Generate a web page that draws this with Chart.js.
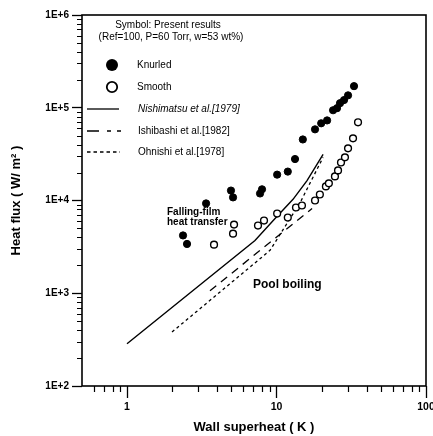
<!DOCTYPE html>
<html>
<head>
<meta charset="utf-8">
<script src="https://cdn.jsdelivr.net/npm/chart.js@4/dist/chart.umd.min.js"></script>
<style>
  html, body { margin: 0; padding: 0; background: #fff; }
</style>
</head>
<body>
<canvas id="fluxChart" width="433" height="436"></canvas>
<script>
// Present results (Ref=100, P=60 Torr, w=53 wt%)
const knurledX = [2.37, 2.52, 3.38, 4.96, 5.12, 7.76, 8.0, 10.1, 11.9, 13.3, 15.0, 18.1, 19.9, 21.8, 23.9, 25.4, 26.6, 28.3, 30.1, 33.0];
const knurledY = [4200, 3400, 9300, 12800, 10800, 11900, 13200, 19000, 20500, 28000, 45500, 58500, 68000, 73000, 94000, 99000, 112000, 121000, 136000, 171000];
const smoothX = [3.82, 5.12, 5.20, 7.52, 8.25, 10.1, 11.9, 13.5, 14.8, 18.1, 19.5, 21.4, 22.4, 24.6, 25.8, 27.0, 28.7, 30.1, 32.5, 35.1];
const smoothY = [3340, 4390, 5500, 5370, 6080, 7230, 6550, 8400, 8830, 10000, 11600, 14200, 15300, 18200, 21100, 25700, 29200, 36500, 46800, 69700];

// pool boiling correlations
const nishimatsuX = [1, 7.18, 9.78, 12.9, 16.0, 20.5];
const nishimatsuY = [285, 3700, 6390, 10300, 16400, 31400];
const ishibashiX = [3.59, 17.3];
const ishibashiY = [1065, 8200];
const ohnishiX = [2.0, 9.05, 10.2, 14.4, 20.5];
const ohnishiY = [382, 2900, 3940, 9510, 29200];

// axes
const xMajor = [1, 10, 100];
const xTickLabels = ['1', '10', '100'];
const yMajor = [1e2, 1e3, 1e4, 1e5, 1e6];
const yTickLabels = ['1E+2', '1E+3', '1E+4', '1E+5', '1E+6'];

const FONT = '"Liberation Sans", Arial, sans-serif';

const pts = (xs, ys) => xs.map((v, i) => ({ x: v, y: ys[i] }));

// minor tick positions (2..9 in each decade)
const xMinor = [];
[0.1, 1, 10].forEach(d => { for (let m = 2; m <= 9; m++) { const v = m * d; if (v > 0.5 && v < 100) xMinor.push(v); } });
const yMinor = [];
[1e2, 1e3, 1e4, 1e5].forEach(d => { for (let m = 2; m <= 9; m++) yMinor.push(m * d); });

const decorations = {
  id: 'decorations',
  afterDraw(chart) {
    const { ctx, chartArea: a, scales: { x, y } } = chart;
    ctx.save();
    ctx.strokeStyle = '#000';
    ctx.fillStyle = '#000';

    // frame
    ctx.lineWidth = 1.6;
    ctx.strokeRect(a.left, a.top, a.right - a.left, a.bottom - a.top);

    // minor ticks
    ctx.lineWidth = 1.2;
    ctx.beginPath();
    yMinor.forEach(v => { const py = Math.round(y.getPixelForValue(v)) + 0.5; ctx.moveTo(a.left - 5, py); ctx.lineTo(a.left, py); });
    xMinor.forEach(v => { const px = Math.round(x.getPixelForValue(v)) + 0.5; ctx.moveTo(px, a.bottom); ctx.lineTo(px, a.bottom + 6); });
    ctx.stroke();

    // legend header
    ctx.font = '10px ' + FONT;
    ctx.textBaseline = 'middle';
    ctx.textAlign = 'center';
    ctx.fillText('Symbol: Present results', 168, 25);
    ctx.fillText('(Ref=100, P=60 Torr, w=53 wt%)', 171, 37);

    // legend symbols
    ctx.beginPath();
    ctx.arc(112, 65, 6, 0, Math.PI * 2);
    ctx.fill();
    ctx.beginPath();
    ctx.lineWidth = 1.8;
    ctx.arc(112, 87, 5.2, 0, Math.PI * 2);
    ctx.stroke();

    ctx.lineWidth = 1.3;
    ctx.beginPath(); ctx.moveTo(87, 109); ctx.lineTo(119, 109); ctx.stroke();
    ctx.setLineDash([12, 8, 4, 6, 4]);
    ctx.beginPath(); ctx.moveTo(87, 131); ctx.lineTo(121, 131); ctx.stroke();
    ctx.setLineDash([3.5, 3]);
    ctx.beginPath(); ctx.moveTo(87, 152); ctx.lineTo(120, 152); ctx.stroke();
    ctx.setLineDash([]);

    ctx.textAlign = 'left';
    ctx.fillText('Knurled', 137, 65);
    ctx.fillText('Smooth', 137, 87);
    ctx.font = 'italic 10px ' + FONT;
    ctx.fillText('Nishimatsu et al.[1979]', 138, 109);
    ctx.font = '10px ' + FONT;
    ctx.fillText('Ishibashi et al.[1982]', 138, 131);
    ctx.fillText('Ohnishi et al.[1978]', 138, 152);

    // annotations
    ctx.font = 'bold 10px ' + FONT;
    ctx.fillText('Falling-film', 167, 212);
    ctx.fillText('heat transfer', 167, 222);
    ctx.font = 'bold 12px ' + FONT;
    ctx.fillText('Pool boiling', 253, 285);
    ctx.restore();
  }
};

const ctx = document.getElementById('fluxChart').getContext('2d');
const fluxChart = new Chart(ctx, {
  type: 'scatter',
  data: {
    datasets: [
      {
        label: 'Knurled',
        data: pts(knurledX, knurledY),
        pointStyle: 'circle',
        pointRadius: 3.6,
        backgroundColor: '#000',
        borderColor: '#000',
        borderWidth: 1,
      },
      {
        label: 'Smooth',
        data: pts(smoothX, smoothY),
        pointStyle: 'circle',
        pointRadius: 3.4,
        backgroundColor: '#fff',
        borderColor: '#000',
        borderWidth: 1.4,
      },
      {
        label: 'Nishimatsu et al.[1979]',
        data: pts(nishimatsuX, nishimatsuY),
        showLine: true,
        pointRadius: 0,
        borderColor: '#000',
        borderWidth: 1.4,
      },
      {
        label: 'Ishibashi et al.[1982]',
        data: pts(ishibashiX, ishibashiY),
        showLine: true,
        pointRadius: 0,
        borderColor: '#000',
        borderWidth: 1.3,
        borderDash: [8, 6],
      },
      {
        label: 'Ohnishi et al.[1978]',
        data: pts(ohnishiX, ohnishiY),
        showLine: true,
        pointRadius: 0,
        borderColor: '#000',
        borderWidth: 1.3,
        borderDash: [3, 3],
      },
    ],
  },
  options: {
    responsive: false,
    animation: false,
    layout: { padding: { top: 15, right: 7, left: 0, bottom: 0 } },
    plugins: {
      legend: { display: false },
      tooltip: { enabled: false },
    },
    scales: {
      x: {
        type: 'logarithmic',
        min: 0.5,
        max: 100,
        afterBuildTicks: s => { s.ticks = xMajor.map(v => ({ value: v })); },
        afterFit: s => { s.height = 50; s.paddingLeft = 0; s.paddingRight = 0; },
        border: { display: false },
        grid: { drawOnChartArea: false, tickLength: 12, tickColor: '#000', tickWidth: 1.3 },
        ticks: {
          color: '#000',
          padding: 3,
          autoSkip: false,
          maxRotation: 0,
          font: { family: FONT, size: 10.5, weight: 'bold' },
          callback: (v, i) => xTickLabels[i],
        },
        title: {
          display: true,
          text: 'Wall superheat ( K )',
          color: '#000',
          font: { family: FONT, size: 13, weight: 'bold' },
          padding: { top: 0, bottom: 1 },
        },
      },
      y: {
        type: 'logarithmic',
        min: 1e2,
        max: 1e6,
        afterBuildTicks: s => { s.ticks = yMajor.map(v => ({ value: v })); },
        afterFit: s => { s.width = 82; s.paddingTop = 0; s.paddingBottom = 0; },
        border: { display: false },
        grid: { drawOnChartArea: false, tickLength: 10, tickColor: '#000', tickWidth: 1.3 },
        ticks: {
          color: '#000',
          padding: 3,
          autoSkip: false,
          font: { family: FONT, size: 10, weight: 'bold' },
          callback: (v, i) => yTickLabels[i],
        },
        title: {
          display: true,
          text: 'Heat flux ( W/ m\u00B2 )',
          color: '#000',
          font: { family: FONT, size: 13, weight: 'bold' },
          padding: { top: 9, bottom: 0 },
        },
      },
    },
  },
  plugins: [decorations],
});
</script>
</body>
</html>
